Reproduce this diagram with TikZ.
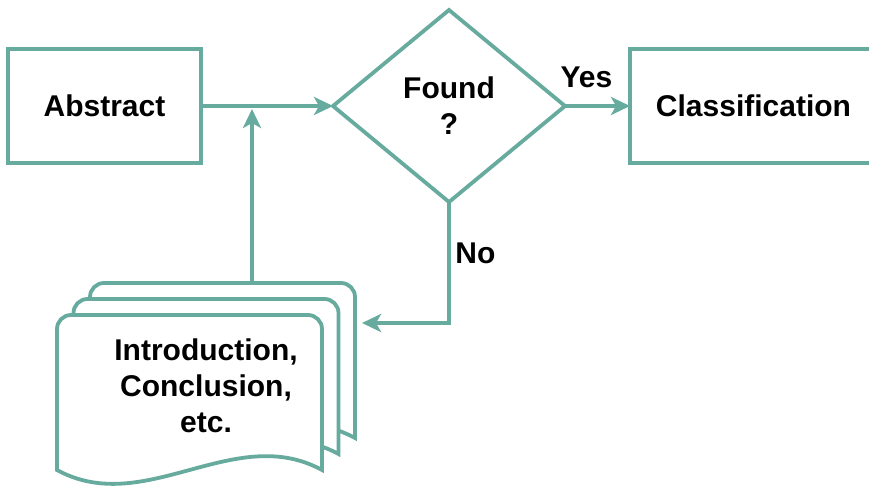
\documentclass[tikz,border=0pt]{standalone}
\usepackage{fontspec}
\setmainfont{Liberation Sans}
\usetikzlibrary{positioning, shapes.geometric, arrows.meta}
\definecolor{flowteal}{HTML}{67AB9F}
\tikzset{
    docsheet/.pic={
        \draw[sheet] (0,155) [rounded corners=14pt] -- (0,0) -- (265,0) [sharp corners] -- (265,155) .. controls (177,107) and (88,203) .. (0,155) -- cycle;
    }
}

\begin{document}
\begin{tikzpicture}[
    x=1pt, y=-1pt,
    font=\fontsize{30}{36}\selectfont\bfseries,
    every node/.style={align=center, outer sep=0pt},
    box/.style={draw=flowteal, line width=3.8pt, rectangle, minimum width=193pt, minimum height=114pt},
    decision/.style={draw=flowteal, line width=3.8pt, diamond, aspect=1.2, minimum width=232pt, minimum height=192pt, inner sep=0pt},
    sheet/.style={draw=flowteal, line width=3.8pt, fill=white},
    arrow/.style={-{Stealth[length=19pt, width=18pt, inset=5pt]}, line width=3.8pt, draw=flowteal}
]
\useasboundingbox (0,0) rectangle (869,485);
\clip (0,0) rectangle (869,485);

\node[box] (abstract) at (104.5,106) {Abstract};
\node[decision, right=132pt of abstract] (found) {Found\\?};
\node[box, minimum width=247pt, right=65pt of found] (classification) {Classification};

% stacked pages
\pic at (90,283) {docsheet};
\pic at (73.5,299) {docsheet};
\pic at (57,315) {docsheet};
\node (docs) at (206,386) {Introduction,\\Conclusion,\\etc.};
\coordinate (docstop) at (252,283);
\coordinate (docside) at (362,323);

\draw[arrow] (abstract) -- (found);
\draw[arrow] (found) -- node[above=15pt, pos=0.33] {Yes} (classification);
\draw[arrow] (found) |- node[right=3pt, pos=0.21] {No} (docside);
\draw[arrow, shorten >=3pt] (docstop) -- (docstop |- abstract.east);
\end{tikzpicture}
\end{document}
